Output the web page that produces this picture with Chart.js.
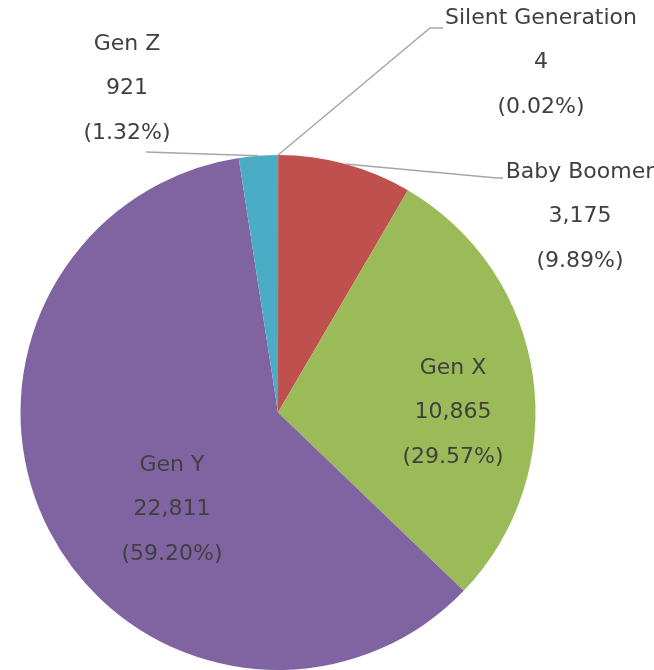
<!DOCTYPE html>
<html>
<head>
<meta charset="utf-8">
<script src="https://cdn.jsdelivr.net/npm/chart.js@4/dist/chart.umd.min.js"></script>
<style>
  html, body { margin: 0; padding: 0; background: #fff; }
  #wrap { width: 654px; height: 670px; position: relative; }
</style>
</head>
<body>
<div id="wrap"><canvas id="genChart"></canvas></div>
<script>
// generation breakdown, clockwise from 12 o'clock
const categories = ['Silent Generation', 'Baby Boomer', 'Gen X', 'Gen Y', 'Gen Z'];
const counts = [4, 3175, 10865, 22811, 921];
const shareLabels = ['0.02%', '9.89%', '29.57%', '59.20%', '1.32%'];
const sliceColors = ['#4F81BD', '#C0504D', '#9BBB59', '#8064A2', '#4BACC6'];

// where each label block sits (centre of first line) and its leader path
const labelSpots = [
    { x: 541, y: 18, path: [[430, 28], [443, 28]] },
    { x: 580, y: 172, path: [[497, 178], [503, 178]] },
    { x: 453, y: 368 },
    { x: 172, y: 465 },
    { x: 127, y: 44, path: [[146, 152]] }
];

const pieLabels = {
    id: 'pieLabels',
    afterDatasetsDraw(chart) {
        const ctx = chart.ctx;
        const arcs = chart.getDatasetMeta(0).data;
        ctx.save();
        arcs.forEach((arc, i) => {
            const spot = labelSpots[i];
            const p = arc.getProps(['x', 'y', 'startAngle', 'endAngle', 'outerRadius'], true);
            if (spot.path) {
                const mid = (p.startAngle + p.endAngle) / 2;
                ctx.beginPath();
                ctx.moveTo(p.x + Math.cos(mid) * p.outerRadius, p.y + Math.sin(mid) * p.outerRadius);
                spot.path.forEach(pt => ctx.lineTo(pt[0], pt[1]));
                ctx.strokeStyle = '#A6A6A6';
                ctx.lineWidth = 1.5;
                ctx.stroke();
            }
            const lines = [categories[i], counts[i].toLocaleString('en-US'), '(' + shareLabels[i] + ')'];
            ctx.fillStyle = '#404040';
            ctx.font = '22px "DejaVu Sans", sans-serif';
            ctx.textAlign = 'center';
            ctx.textBaseline = 'middle';
            lines.forEach((t, k) => ctx.fillText(t, spot.x, spot.y + k * 44.5));
        });
        ctx.restore();
    }
};

new Chart(document.getElementById('genChart').getContext('2d'), {
    type: 'pie',
    data: {
        labels: categories,
        datasets: [{
            data: counts,
            backgroundColor: sliceColors,
            borderWidth: 0
        }]
    },
    options: {
        responsive: true,
        maintainAspectRatio: false,
        animation: false,
        layout: { padding: { top: 155, bottom: 0, left: 20, right: 118 } },
        plugins: {
            legend: { display: false },
            tooltip: { enabled: false }
        }
    },
    plugins: [pieLabels]
});
</script>
</body>
</html>
